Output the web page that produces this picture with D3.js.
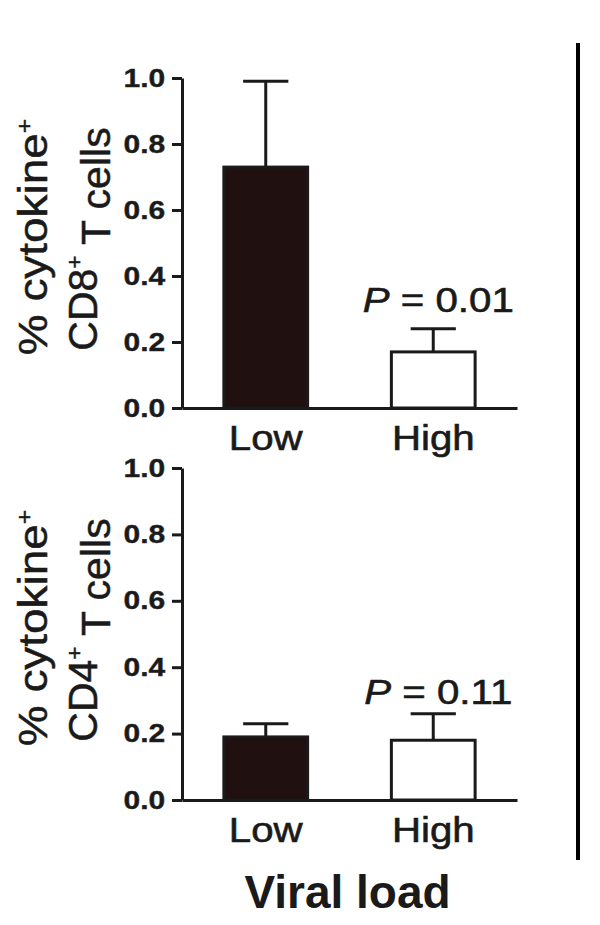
<!DOCTYPE html>
<html>
<head>
<meta charset="utf-8">
<script src="https://cdn.jsdelivr.net/npm/d3@7"></script>
<style>
  body { margin: 0; background: #fff; }
  svg { display: block; }
  text { font-family: "Liberation Sans", Arial, sans-serif; fill: #1a1a1a; }
</style>
</head>
<body>
<div id="chart"></div>
<script>
// ---- data ----
var groups = ['Low', 'High'];
var cd8Means = [0.73, 0.17];
var cd8Errs = [0.99, 0.24];      // top of the error bar
var cd4Means = [0.19, 0.18];
var cd4Errs = [0.23, 0.26];
var pLabels = ['0.01', '0.11'];
var yTicks = [0, 0.2, 0.4, 0.6, 0.8, 1.0];
var cellTypes = ['CD8', 'CD4'];
var xTitle = 'Viral load';

var W = 600, H = 925;
var svg = d3.select('#chart').append('svg').attr('width', W).attr('height', H);

// panels: [top, bottom] pixel ranges of the y axis
var panels = [
    { means: cd8Means, errs: cd8Errs, p: pLabels[0], cell: cellTypes[0], y0: 408, y1: 78 },
    { means: cd4Means, errs: cd4Errs, p: pLabels[1], cell: cellTypes[1], y0: 800, y1: 468 }
];

var x = d3.scaleBand().domain(groups).range([182, 517]).paddingInner(0.5).paddingOuter(0.25);
var fills = { Low: '#201010', High: '#ffffff' };

panels.forEach(function(p) {
    var y = d3.scaleLinear().domain([0, 1]).range([p.y0, p.y1]);
    var g = svg.append('g');
    var data = groups.map(function(k, i) { return { k: k, v: p.means[i], e: p.errs[i] }; });

    //------------------ error bars ---------------------------------------------
    var eb = g.selectAll('.eb').data(data).enter().append('g')
              .attr('stroke', '#1a1a1a').attr('stroke-width', 3);
    eb.append('line')
      .attr('x1', function(d) { return x(d.k) + x.bandwidth() / 2; })
      .attr('x2', function(d) { return x(d.k) + x.bandwidth() / 2; })
      .attr('y1', function(d) { return y(d.v); })
      .attr('y2', function(d) { return y(d.e); });
    eb.append('line')
      .attr('x1', function(d) { return x(d.k) + x.bandwidth() * 0.23; })
      .attr('x2', function(d) { return x(d.k) + x.bandwidth() * 0.77; })
      .attr('y1', function(d) { return y(d.e); })
      .attr('y2', function(d) { return y(d.e); });

    //------------------ bars ---------------------------------------------
    g.selectAll('.bar').data(data).enter().append('rect')
     .attr('x', function(d) { return x(d.k); })
     .attr('width', x.bandwidth())
     .attr('y', function(d) { return y(d.v); })
     .attr('height', function(d) { return y(0) - y(d.v); })
     .attr('fill', function(d) { return fills[d.k]; })
     .attr('stroke', '#1a1a1a').attr('stroke-width', 3);

    //------------------ y axis ---------------------------------------------
    var ya = g.append('g').attr('transform', 'translate(182,0)')
              .call(d3.axisLeft(y).tickValues(yTicks).tickFormat(d3.format('.1f'))
                      .tickSize(10).tickSizeOuter(0).tickPadding(4));
    ya.select('.domain').attr('stroke', '#1a1a1a').attr('stroke-width', 3);
    ya.selectAll('.tick line').attr('stroke', '#1a1a1a').attr('stroke-width', 3);
    ya.selectAll('.tick text').attr('fill', '#2a2a2a')
      .style('font-size', '25px').style('font-weight', 'bold')
      .attr('stroke', '#2a2a2a').attr('stroke-width', 0.4)
      .attr('transform', 'scale(1.2,1)');

    //------------------ x axis ---------------------------------------------
    var xa = g.append('g').attr('transform', 'translate(0,' + y(0) + ')')
              .call(d3.axisBottom(x).tickSize(0).tickSizeOuter(0).tickPadding(17));
    xa.select('.domain').attr('stroke', '#1a1a1a').attr('stroke-width', 3);
    xa.selectAll('.tick text').attr('fill', '#1a1a1a')
      .style('font-size', '35px')
      .attr('stroke', '#1a1a1a').attr('stroke-width', 0.6)
      .attr('transform', 'scale(1.15,1)');

    //------------------ P value ---------------------------------------------
    var pt = g.append('text')
              .attr('transform', 'translate(' + (x('High') + x.bandwidth() / 2 + 5) + ',' + y(0.29) + ') scale(1.15,1)')
              .attr('text-anchor', 'middle').style('font-size', '35px')
              .attr('stroke', '#1a1a1a').attr('stroke-width', 0.6);
    pt.append('tspan').style('font-style', 'italic').text('P');
    pt.append('tspan').text(' = ' + p.p);

    //------------------ y title (two lines, rotated) ---------------------------
    var cy = (p.y0 + p.y1) / 2;
    var t1 = g.append('text').attr('transform', 'translate(47,' + (cy - 6) + ') rotate(-90) scale(1.12,1)')
              .attr('text-anchor', 'middle').style('font-size', '41px')
              .attr('stroke', '#1a1a1a').attr('stroke-width', 0.5);
    t1.append('tspan').text('% cytokine');
    t1.append('tspan').attr('dy', '-0.7em').style('font-size', '22px').text('+');

    var t2 = g.append('text').attr('transform', 'translate(97,' + (cy - 4) + ') rotate(-90)')
              .attr('text-anchor', 'middle').style('font-size', '41px')
              .attr('stroke', '#1a1a1a').attr('stroke-width', 0.5);
    t2.append('tspan').text(p.cell);
    t2.append('tspan').attr('dy', '-0.7em').style('font-size', '22px').text('+');
    t2.append('tspan').attr('dy', '0.7em').text(' T cells');
});

//------------------ x title ---------------------------------------------
svg.append('text').attr('x', (x.range()[0] + x.range()[1]) / 2 - 2).attr('y', 908)
   .attr('text-anchor', 'middle').style('font-size', '46px').style('font-weight', 'bold')
   .attr('fill', '#000').text(xTitle);

//------------------ separator line on the right ---------------------------
svg.append('line').attr('x1', 578).attr('x2', 578).attr('y1', 43).attr('y2', 860)
   .attr('stroke', '#000').attr('stroke-width', 4);
</script>
</body>
</html>
